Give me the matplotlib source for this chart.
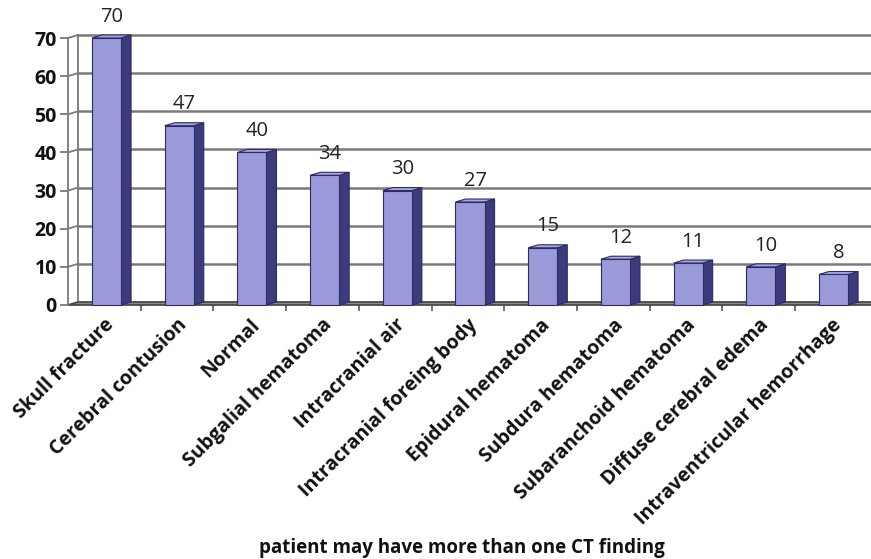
import matplotlib
matplotlib.use("Agg")
import matplotlib.pyplot as plt
from matplotlib.patches import Polygon
from matplotlib import transforms
import numpy as np

categories = ["Skull fracture", "Cerebral contusion", "Normal", "Subgalial hematoma",
              "Intracranial air", "Intracranial foreing body", "Epidural hematoma",
              "Subdura hematoma", "Subaranchoid hematoma", "Diffuse cerebral edema",
              "Intraventricular hemorrhage"]
values = [70, 47, 40, 34, 30, 27, 15, 12, 11, 10, 8]
y_ticks = [0, 10, 20, 30, 40, 50, 60, 70]
footer = "patient may have more than one CT finding"

W, H = 871, 559
fig = plt.figure(figsize=(W / 100, H / 100), dpi=100)
fig.patch.set_facecolor("white")

# plot area in pixels (front plane)
x_left, x_right = 68, 871
y_bot, y_top = 305, 38
slot_px = 72.7
ax = fig.add_axes([x_left / W, (H - y_bot) / H, (x_right - x_left) / W, (y_bot - y_top) / H])
ax.set_xlim(0, (x_right - x_left) / slot_px)
ax.set_ylim(0, 70)
ax.set_facecolor("none")

px_per_unit_y = (y_bot - y_top) / 70.0
dx = 10 / slot_px          # depth offset, data units
dy = 3 / px_per_unit_y

front_col = "#9a9ad8"
side_col = "#3b3b7e"
top_col = "#a9a9e2"
edge_col = "#2c2c62"
grid_col = "#7a7a7a"

xmax = ax.get_xlim()[1]

# back wall gridlines and left wall
for t in y_ticks[1:]:
    ax.plot([dx, xmax + 0.2], [t + dy, t + dy], color=grid_col, lw=1.8, clip_on=False, zorder=1)
    ax.plot([0, dx], [t, t + dy], color=grid_col, lw=1.3, clip_on=False, zorder=1)
ax.plot([dx, dx], [dy, 70 + dy], color=grid_col, lw=1.3, clip_on=False, zorder=1)

# floor
floor = Polygon([[0, 0], [xmax + 0.2, 0], [xmax + 0.2, dy], [dx, dy]], closed=True,
                facecolor="#8a8a8a", edgecolor="#4a4a4a", lw=1.3, clip_on=False, zorder=2)
ax.add_patch(floor)

# bars with side and top faces
bw = 0.40
for i, v in enumerate(values):
    x0 = i + 0.53 - bw / 2
    x1 = x0 + bw
    front = Polygon([[x0, 0], [x1, 0], [x1, v], [x0, v]], closed=True,
                    facecolor=front_col, edgecolor=edge_col, lw=0.8, zorder=4, clip_on=False)
    side = Polygon([[x1, 0], [x1 + dx, dy], [x1 + dx, v + dy], [x1, v]], closed=True,
                   facecolor=side_col, edgecolor=edge_col, lw=0.8, zorder=3, clip_on=False)
    top = Polygon([[x0, v], [x1, v], [x1 + dx, v + dy], [x0 + dx, v + dy]], closed=True,
                  facecolor=top_col, edgecolor=edge_col, lw=0.8, zorder=3, clip_on=False)
    for p in (side, top, front):
        ax.add_patch(p)
    ax.annotate(str(v), xy=((x0 + x1 + dx) / 2, v + dy), xytext=(0, 6),
                textcoords="offset points", ha="center", va="bottom",
                fontsize=14.5, family="Open Sans", color="#222222", zorder=6,
                annotation_clip=False)

# axes and ticks
for s in ("top", "right", "bottom"):
    ax.spines[s].set_visible(False)
ax.spines["left"].set_color(grid_col)
ax.spines["left"].set_linewidth(1.3)
ax.set_yticks(y_ticks)
ax.set_yticklabels([str(t) for t in y_ticks], fontsize=14, fontweight="bold",
                   family="Open Sans", color="#111111")
ax.tick_params(axis="y", length=6, width=1.3, color=grid_col, pad=2)

ax.set_xticks(np.arange(1, len(categories)), minor=True)
ax.set_xticks([])
ax.tick_params(axis="x", which="minor", length=4, width=1.2, color="#555555", direction="out")

label_tr = transforms.offset_copy(ax.transData, fig=fig, x=0, y=-10, units="dots")
for i, c in enumerate(categories):
    ax.text(i + 0.5, 0, c, transform=label_tr, rotation=45, rotation_mode="anchor",
            ha="right", va="top", fontsize=14, fontweight="bold", family="Open Sans",
            color="#111111")

fig.text(462 / W, 1 - 548 / H, footer, ha="center", va="center", fontsize=13.5,
         fontweight="bold", family="Open Sans", color="#111111")

fig.savefig("out.png", dpi=100, facecolor="white")
